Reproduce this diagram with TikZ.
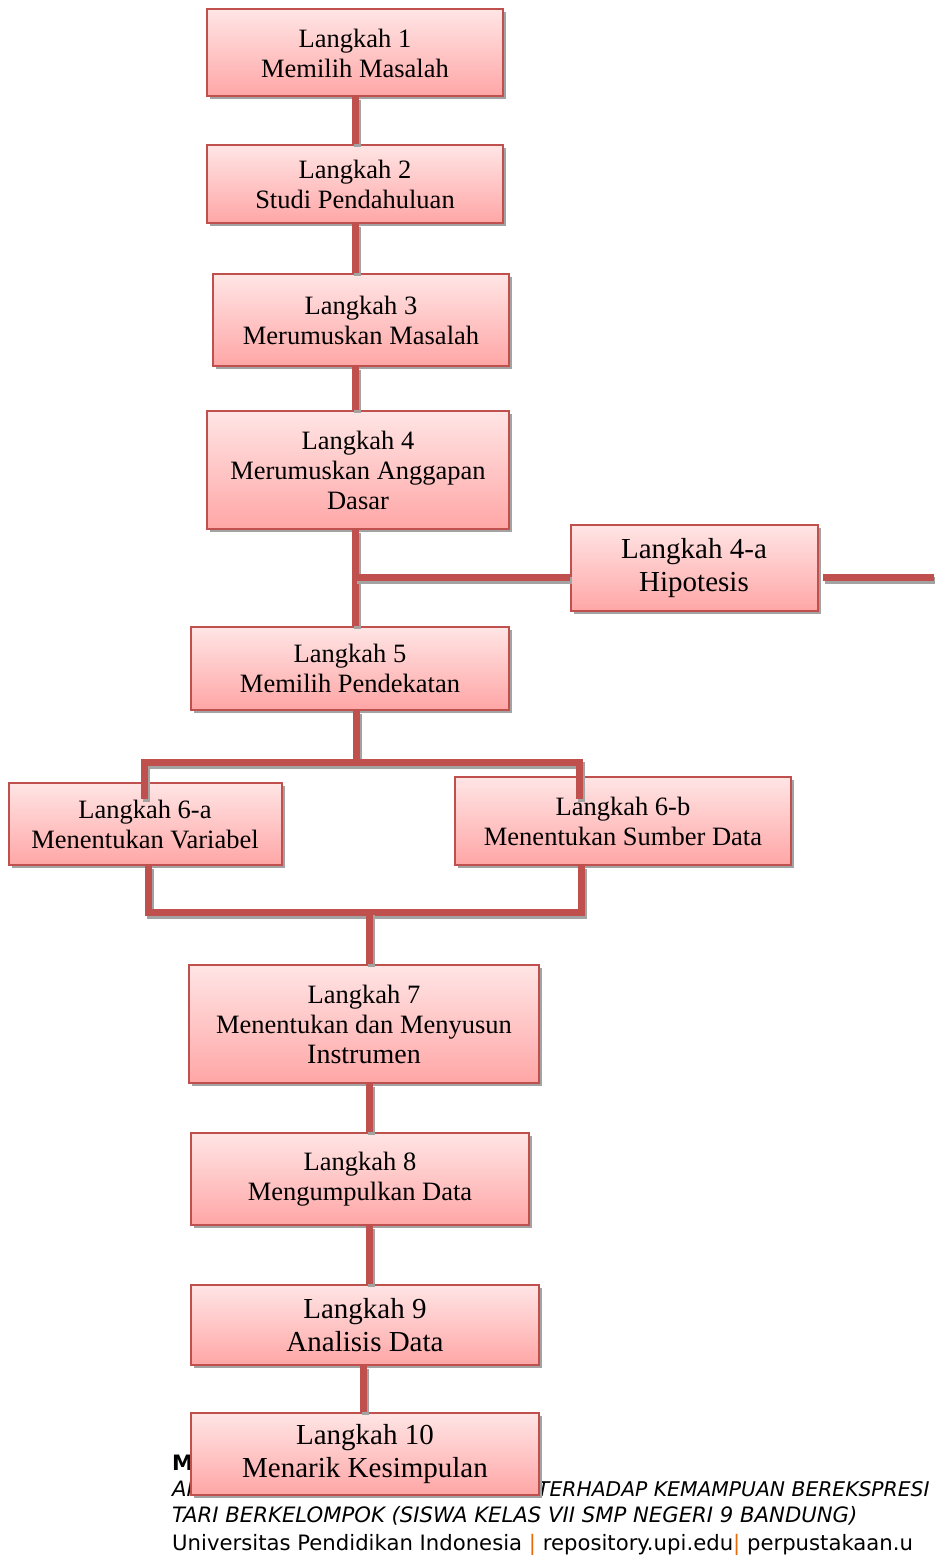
\documentclass[tikz,border=0pt]{standalone}
\usepackage{fontspec}
\setmainfont{Liberation Serif}
\newfontfamily\footfont{DejaVu Sans}
\usepackage{xcolor}
\usepackage{tikz}
\usetikzlibrary{shadows, positioning}
\definecolor{boxline}{HTML}{C0504D}
\definecolor{boxtop}{HTML}{FFE5E5}
\definecolor{boxbot}{HTML}{FFA6A6}
\definecolor{shadowgray}{HTML}{A3A3A3}
\definecolor{barorange}{HTML}{E46C0A}
\tikzset{
  stepbox/.style={draw=boxline, line width=2pt, top color=boxtop, bottom color=boxbot,
                  align=center, inner sep=2pt, font=\fontsize{26.5}{30}\selectfont,
                  drop shadow={shadow xshift=3pt, shadow yshift=-3pt, fill=shadowgray, opacity=1}},
  bigstep/.style={font=\fontsize{29}{33}\selectfont},
  link/.style={draw=boxline, line width=7pt,
               preaction={draw=shadowgray, line width=7pt, transform canvas={xshift=2pt, yshift=-3pt}}},
  foot/.style={anchor=base west, inner sep=0pt, font=\footfont\fontsize{21.2}{26}\selectfont},
}
\begin{document}
\begin{tikzpicture}[x=1pt, y=-1pt]
  \useasboundingbox (0,0) rectangle (934,1560);
  % page footer, partly hidden by the last step
  \node[foot, font=\footfont\bfseries\fontsize{21.2}{26}\selectfont] (f1) at (172,1470) {M};
  \node[foot, font=\footfont\itshape\fontsize{21.2}{26}\selectfont] (f2a) at (172,1496) {AI};
  \node[foot, font=\footfont\itshape\fontsize{20.3}{26}\selectfont] (f2b) at (537,1496) {TERHADAP KEMAMPUAN BEREKSPRESI};
  \node[foot, font=\footfont\itshape\fontsize{21.2}{26}\selectfont] (f3) at (172,1522) {TARI BERKELOMPOK (SISWA KELAS VII SMP NEGERI 9 BANDUNG)};
  \node[foot] (f4) at (172,1550) {Universitas Pendidikan Indonesia {\color{barorange}|} repository.upi.edu{\color{barorange}|} perpustakaan.u};

  % the steps
  \node[stepbox, minimum width=296, minimum height=87]  (s1)  at (355,53)    {Langkah 1\\Memilih Masalah};
  \node[stepbox, minimum width=296, minimum height=78]  (s2)  at (355,184)   {Langkah 2\\Studi Pendahuluan};
  \node[stepbox, minimum width=296, minimum height=92]  (s3)  at (361,320)   {Langkah 3\\Merumuskan Masalah};
  \node[stepbox, minimum width=302, minimum height=118] (s4)  at (358,470)   {Langkah 4\\Merumuskan Anggapan\\Dasar};
  \node[stepbox, bigstep, minimum width=247, minimum height=86] (s4a) at (694,568) {Langkah 4-a\\Hipotesis};
  \node[stepbox, minimum width=318, minimum height=83]  (s5)  at (350,668)   {Langkah 5\\Memilih Pendekatan};
  \node[stepbox, minimum width=273, minimum height=82]  (s6a) at (145,824)   {Langkah 6-a\\Menentukan Variabel};
  \node[stepbox, minimum width=336, minimum height=88]  (s6b) at (623,821)   {Langkah 6-b\\Menentukan Sumber Data};
  \node[stepbox, minimum width=350, minimum height=118] (s7)  at (364,1024)  {Langkah 7\\Menentukan dan Menyusun\\{\fontsize{28}{30}\selectfont Instrumen}};
  \node[stepbox, minimum width=338, minimum height=92]  (s8)  at (360,1179)  {Langkah 8\\Mengumpulkan Data};
  \node[stepbox, bigstep, minimum width=348, minimum height=80] (s9)  at (365,1325) {Langkah 9\\Analisis Data};
  \node[stepbox, bigstep, minimum width=348, minimum height=82] (s10) at (365,1454) {Langkah 10\\Menarik Kesimpulan};

  % joints
  \coordinate (edge) at (934,577);
  \coordinate (j5) at (356,762);
  \coordinate (j6) at (369,912);

  \draw[link] (s1) -- (s2);
  \draw[link] (s2.south -| s1) -- (s3.north -| s1);
  \draw[link] (s3.south -| s1) -- (s4.north -| s1);
  \draw[link] (s4.south -| s1) -- (s5.north -| s1);
  \draw[link] ([yshift=-9pt]s4a.west) -- ([yshift=-9pt]s4a.west -| s1);
  \draw[link] ([xshift=4pt, yshift=-9pt]s4a.east) -- (edge);
  \draw[link] (s5.south -| j5) -- (j5);
  \draw[link] ([xshift=-1pt, yshift=-17pt]s6a.north) |- (j5) -| ([xshift=-44pt, yshift=-23pt]s6b.north);
  \draw[link] ([xshift=3pt]s6a.south) |- (j6);
  \draw[link] ([xshift=-42pt]s6b.south) |- (j6);
  \draw[link] (j6) -- (s7.north -| j6);
  \draw[link] (s7.south -| j6) -- (s8.north -| j6);
  \draw[link] (s8.south -| j6) -- (s9.north -| j6);
  \draw[link] ([xshift=-2pt]s9.south) -- ([xshift=-2pt]s10.north);
\end{tikzpicture}
\end{document}
